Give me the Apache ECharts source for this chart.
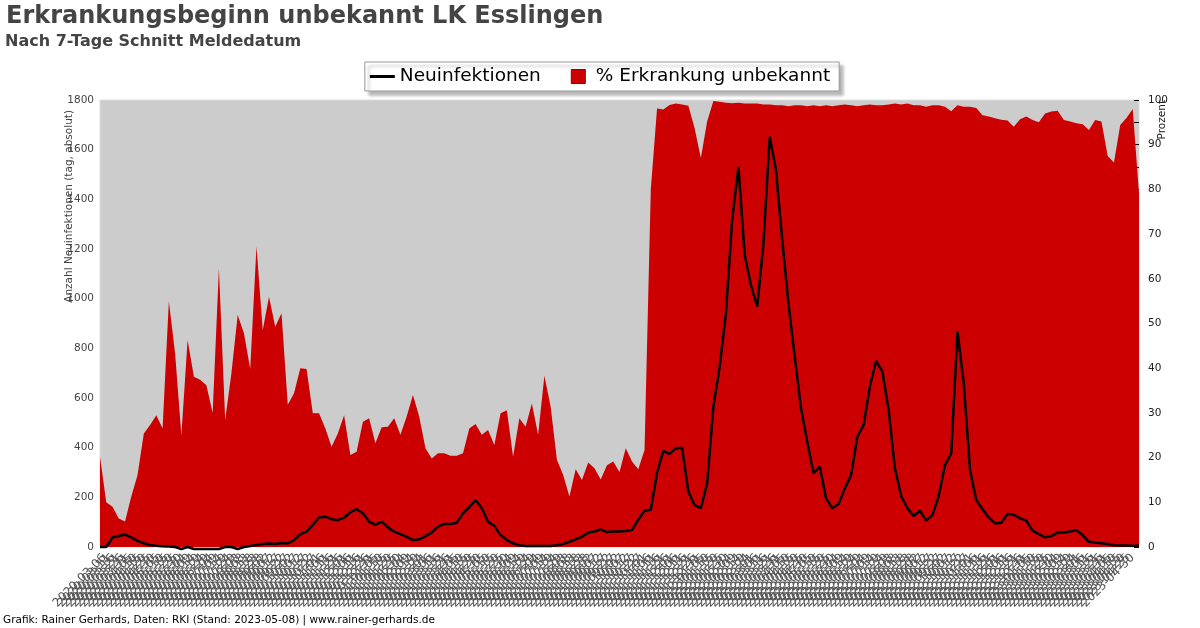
<!DOCTYPE html>
<html>
<head>
<meta charset="utf-8">
<script src="https://cdn.jsdelivr.net/npm/echarts@6/dist/echarts.min.js"></script>
<style>html,body{margin:0;padding:0;background:#fff}#c{width:1200px;height:628px}</style>
</head>
<body>
<div id="c"></div>
<script>
// Weekly samples (Sundays) starting 2020-03-01
const firstDate = '2020-03-01';

// % Erkrankungsbeginn unbekannt (right axis, Prozent)
const pctUnknown = [
 20.2,10,9.0,6.4,5.7,11.3,16.1,25.4,27.3,29.5,
 26.5,55,43.3,25,46.3,38.1,37.4,36.2,30,62.3,
 28.4,38.9,51.9,47.8,39.8,67.2,48.5,56,49.3,52.3,
 31.8,34.4,40,39.8,29.9,29.9,26.5,22.4,25.4,29.5,
 20.6,21.3,28,28.8,23.2,26.8,26.9,28.8,25.1,29.2,
 34,29.2,22.1,19.8,21,21,20.4,20.4,21,26.5,
 27.5,25.1,26.2,22.8,29.9,30.6,20.2,28.8,26.9,32.1,
 25.1,38.3,31.4,19.5,16.1,11.3,17.4,15,18.9,17.6,
 15.1,18.3,19.1,16.8,22.1,19.1,17.4,21.7,80,98.1,
 97.9,98.9,99.2,99,98.7,93.7,87,95.2,99.8,99.6,
 99.4,99.3,99.4,99.2,99.2,99.2,99,99,98.8,98.8,
 98.6,98.8,98.8,98.6,98.8,98.6,98.8,98.6,98.8,99,
 98.8,98.6,98.8,99,98.8,98.8,99,99.2,99,99.2,
 98.8,98.8,98.5,98.8,98.8,98.5,97.5,98.8,98.5,98.5,
 98.2,96.6,96.3,95.9,95.6,95.4,94,95.7,96.3,95.5,
 95,97,97.4,97.6,95.5,95.2,94.8,94.6,93.3,95.5,
 95.2,87.5,86,94.4,96,98,79
];

// Neuinfektionen (left axis, daily, 7-day mean)
const newInfections = [
 0,0,38,44,50,39,25,15,8,5,
 3,2,0,-8,0,-8,-8,-8,-8,-8,
 0,0,-8,0,4,8,12,14,12,16,
 14,28,51,62,89,119,122,112,108,118,
 140,152,136,102,89,102,79,62,52,41,
 28,31,44,58,82,93,93,98,136,160,
 189,156,102,85,48,28,15,7,4,4,
 4,4,4,7,12,21,31,41,58,62,
 71,60,62,62,64,68,110,146,150,299,
 387,375,397,400,223,169,156,256,565,726,
 941,1317,1531,1176,1055,968,1223,1652,1518,1236,
 979,766,558,424,297,323,196,156,173,236,
 290,444,491,646,750,706,552,317,205,156,
 125,146,106,129,205,330,377,867,659,310,
 189,152,119,95,98,133,130,115,106,66,
 52,39,44,58,58,62,68,48,21,18,
 15,12,7,6,6,5,5
];

const leftTicks = {min:0, max:1800, step:200};
const rightTicks = {min:0, max:100, step:10};

// weekly date categories (data) and daily date tick labels (label band)
const weekCategories = [];
const dayLabels = [];
(function(){
  const t0 = Date.parse(firstDate + 'T00:00:00Z');
  for (let i = 0; i < pctUnknown.length; i++) {
    weekCategories.push(new Date(t0 + i * 7 * 86400000).toISOString().slice(0, 10));
  }
  const nDays = (pctUnknown.length - 1) * 7 + 1;
  for (let d = 0; d < nDays; d++) {
    dayLabels.push(new Date(t0 + d * 86400000).toISOString().slice(0, 10));
  }
})();

const FONT = 'DejaVu Sans';
const chart = echarts.init(document.getElementById('c'), null, {renderer: 'canvas', width: 1200, height: 628});
chart.setOption({
  backgroundColor: '#ffffff',
  animation: false,
  textStyle: {fontFamily: FONT},
  title: [
    {text: 'Erkrankungsbeginn unbekannt LK Esslingen', left: 6, top: 5, padding: 0,
     textStyle: {fontFamily: FONT, fontSize: 24, fontWeight: 'bold', color: '#444'}},
    {text: 'Nach 7-Tage Schnitt Meldedatum', left: 5, top: 34, padding: 0,
     textStyle: {fontFamily: FONT, fontSize: 16, fontWeight: 'bold', color: '#444'}},
    {text: 'Grafik: Rainer Gerhards, Daten: RKI (Stand: 2023-05-08) | www.rainer-gerhards.de', left: 3, top: 615, padding: 0,
     textStyle: {fontFamily: FONT, fontSize: 10.5, fontWeight: 'normal', color: '#000'}}
  ],
  legend: {
    top: 62, left: 'center',
    padding: [5, 9, 5, 5], itemGap: 30, itemWidth: 25, itemHeight: 14,
    borderColor: '#999', borderWidth: 1, backgroundColor: '#fff',
    shadowBlur: 3, shadowOffsetX: 4, shadowOffsetY: 4, shadowColor: 'rgba(0,0,0,0.3)',
    textStyle: {fontFamily: FONT, fontSize: 18.5, color: '#000'},
    data: [
      {name: 'Neuinfektionen', icon: 'path://M0,0H25V3H0Z', itemStyle: {color: '#000'}},
      {name: '% Erkrankung unbekannt', icon: 'path://M0,0H10V10H0Z', itemStyle: {color: '#cc0000', borderColor: '#880000', borderWidth: 1}}
    ]
  },
  grid: {left: 100, right: 61, top: 100, bottom: 81, show: true,
         backgroundColor: '#cccccc', borderColor: '#dddddd', borderWidth: 1},
  xAxis: [
    {type: 'category', data: weekCategories, boundaryGap: false,
     axisLine: {show: false}, axisTick: {show: false}, splitLine: {show: false},
     axisLabel: {show: false}},
    {type: 'category', data: dayLabels, boundaryGap: false, position: 'bottom',
     axisLine: {show: false}, axisTick: {show: false}, splitLine: {show: false},
     axisPointer: {show: false},
     axisLabel: {interval: 4, rotate: 45, fontSize: 12, color: '#555', margin: 9, fontFamily: FONT}}
  ],
  yAxis: [
    {type: 'value', min: leftTicks.min, max: leftTicks.max, interval: leftTicks.step, position: 'left',
     splitLine: {show: false}, axisLine: {show: false}, axisTick: {show: false},
     axisLabel: {fontSize: 10.5, color: '#444', margin: 6, fontFamily: FONT, formatter: v => String(v)}},
    {type: 'value', min: rightTicks.min, max: rightTicks.max, interval: rightTicks.step, position: 'right',
     splitLine: {show: false}, axisLine: {show: false},
     axisTick: {show: true, inside: true, length: 5, lineStyle: {color: '#000'}},
     minorTick: {show: true, splitNumber: 2, length: 5, lineStyle: {color: '#000'}},
     axisLabel: {fontSize: 10.5, color: '#222', margin: 9, fontFamily: FONT}}
  ],
  graphic: [
    {type: 'text', x: 64, y: 110, rotation: Math.PI / 2,
     style: {text: 'Anzahl Neuinfektionen (tag, absolut)', fontSize: 10.5, fontFamily: FONT, fill: '#444', align: 'right', verticalAlign: 'top'}},
    {type: 'text', x: 1157, y: 100, rotation: Math.PI / 2,
     style: {text: 'Prozent', fontSize: 10.5, fontFamily: FONT, fill: '#222', align: 'right', verticalAlign: 'top'}}
  ],
  series: [
    {name: '% Erkrankung unbekannt', type: 'line', xAxisIndex: 0, yAxisIndex: 1, data: pctUnknown,
     symbol: 'none', lineStyle: {width: 0, color: '#cc0000'}, itemStyle: {color: '#cc0000'},
     areaStyle: {color: '#cc0000', opacity: 1}, z: 1},
    {name: 'Neuinfektionen', type: 'line', xAxisIndex: 0, yAxisIndex: 0, data: newInfections,
     symbol: 'none', clip: false, lineStyle: {width: 2.5, color: '#000'}, itemStyle: {color: '#000'}, z: 3}
  ]
});
</script>
</body>
</html>
